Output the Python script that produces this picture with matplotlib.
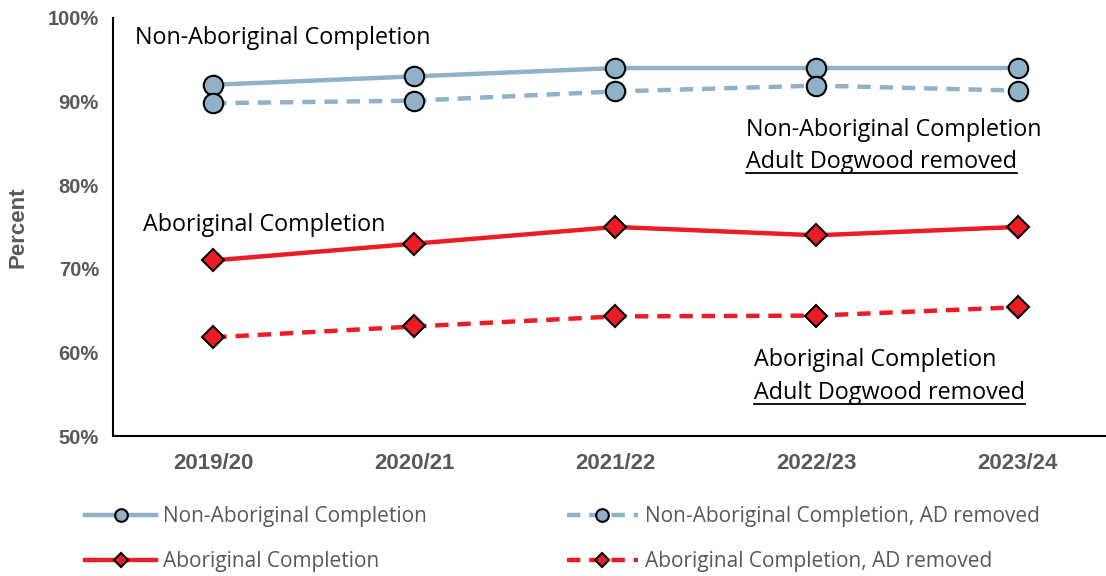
import matplotlib.pyplot as plt
from matplotlib.ticker import PercentFormatter

years = ["2019/20", "2020/21", "2021/22", "2022/23", "2023/24"]
non_ab = [92, 93, 94, 94, 94]
non_ab_ad = [89.8, 90.1, 91.2, 91.9, 91.3]
ab = [71, 73, 75, 74, 75]
ab_ad = [61.8, 63.1, 64.3, 64.4, 65.4]

BLUE = "#8FB2C9"
RED = "#EC1C24"
GREY = "#595959"
NOTE_FONT = ["Open Sans", "DejaVu Sans"]
TICK_FONT = ["Liberation Sans", "DejaVu Sans"]

fig = plt.figure(figsize=(11.06, 5.76), dpi=100)
ax = fig.add_axes([0.102, 0.243, 0.898, 0.726])
x = range(len(years))

circ = dict(marker="o", markersize=14, markerfacecolor=BLUE,
            markeredgecolor="black", markeredgewidth=1.5)
diam = dict(marker="D", markersize=11, markerfacecolor=RED,
            markeredgecolor="black", markeredgewidth=1.5)

l1, = ax.plot(x, non_ab, color=BLUE, lw=3.2, label="Non-Aboriginal Completion", **circ)
l2, = ax.plot(x, non_ab_ad, color=BLUE, lw=3.2, ls=(0, (3, 2)),
              label="Non-Aboriginal Completion, AD removed", **circ)
l3, = ax.plot(x, ab, color=RED, lw=3.2, label="Aboriginal Completion", **diam)
l4, = ax.plot(x, ab_ad, color=RED, lw=3.2, ls=(0, (3, 2)),
              label="Aboriginal Completion, AD removed", **diam)

ax.set_ylim(50, 100)
ax.set_xlim(-0.5, 4.44)
ax.set_yticks(range(50, 101, 10))
ax.yaxis.set_major_formatter(PercentFormatter(decimals=0))
ax.set_xticks(list(x))
ax.set_xticklabels(years)
for lab in ax.get_yticklabels():
    lab.set(fontweight="bold", color=GREY, fontsize=14.5, family=TICK_FONT)
for lab in ax.get_xticklabels():
    lab.set(fontweight="bold", color=GREY, fontsize=16, family=TICK_FONT)
ax.tick_params(length=0)
ax.tick_params(axis="y", pad=10)
ax.tick_params(axis="x", pad=12)
for s in ("top", "right"):
    ax.spines[s].set_visible(False)
for s in ("left", "bottom"):
    ax.spines[s].set_linewidth(1.5)
ax.set_ylabel("Percent", fontsize=16, fontweight="bold", color=GREY,
              family=TICK_FONT, labelpad=14)

# series notes
note = dict(fontsize=16.8, family=NOTE_FONT, va="center", ha="left")
ax.text(-0.39, 97.6, "Non-Aboriginal Completion", **note)
ax.text(-0.35, 75.2, "Aboriginal Completion", **note)
ax.text(2.65, 86.6, "Non-Aboriginal Completion", **note)
u1 = ax.text(2.65, 82.8, "Adult Dogwood removed", **note)
ax.text(2.69, 59.1, "Aboriginal Completion", **note)
u2 = ax.text(2.69, 55.2, "Adult Dogwood removed", **note)

# underline the second line of each right-hand note
fig.canvas.draw()
inv = ax.transData.inverted()
for t in (u1, u2):
    bb = t.get_window_extent()
    (x0, y0), (x1, _) = inv.transform([(bb.x0, bb.y0 + 1), (bb.x1, bb.y0)])
    ax.plot([x0, x1], [y0, y0], color="black", lw=1.3, clip_on=False)

leg = fig.legend(handles=[l1, l3, l2, l4], ncol=2, loc="center left",
                 bbox_to_anchor=(0.077, 0.064), frameon=False,
                 markerscale=0.65, handlelength=3.4, handletextpad=0.35,
                 columnspacing=6.7, labelspacing=1.15, borderpad=0,
                 borderaxespad=0, prop={"family": NOTE_FONT, "size": 15})
for t in leg.get_texts():
    t.set_color(GREY)

fig.savefig("out.png", dpi=100)
